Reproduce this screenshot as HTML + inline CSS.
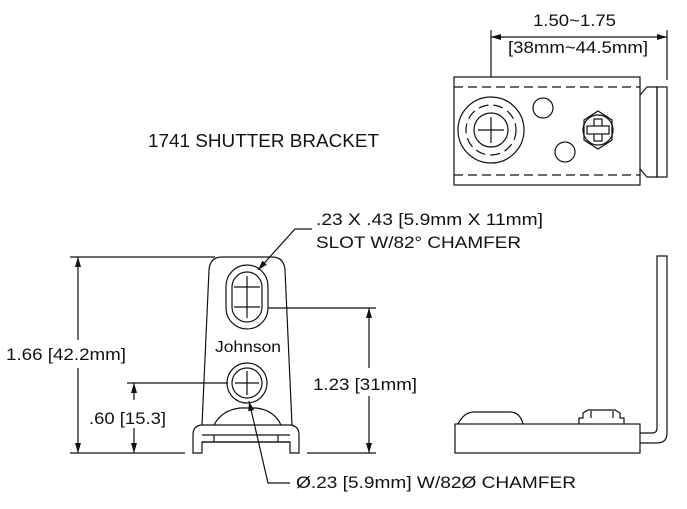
<!DOCTYPE html>
<html><head><meta charset="utf-8"><style>
html,body{margin:0;padding:0;background:#fff;width:687px;height:509px;overflow:hidden}
text{font-family:"Liberation Sans",Arial,sans-serif;fill:#111}
</style></head><body>
<svg width="687" height="509" viewBox="0 0 687 509" xmlns="http://www.w3.org/2000/svg">
<defs>
<marker id="ar" viewBox="0 0 10 6" refX="10" refY="3" markerWidth="10" markerHeight="6" orient="auto-start-reverse" markerUnits="userSpaceOnUse"><path d="M0,0 L10,3 L0,6 Z" fill="#111"/></marker>
</defs>
<g fill="none" stroke="#111" stroke-width="1.2">
<!-- TOP VIEW -->
<line x1="491" y1="30" x2="491" y2="130"/>
<line x1="667" y1="30" x2="667" y2="80"/>
<line x1="491" y1="37" x2="667" y2="37" marker-start="url(#ar)" marker-end="url(#ar)"/>
<rect x="454" y="77" width="186" height="108" fill="#fff"/>
<line x1="454" y1="87" x2="640" y2="87" stroke-dasharray="9,5"/>
<line x1="454" y1="175" x2="640" y2="175" stroke-dasharray="9,5"/>
<circle cx="491" cy="130" r="33"/>
<circle cx="491" cy="130" r="25" stroke-dasharray="10,5"/>
<circle cx="491" cy="130" r="17"/>
<line x1="478" y1="130" x2="504" y2="130"/>
<line x1="491" y1="117" x2="491" y2="143"/>
<circle cx="543" cy="108" r="10"/>
<circle cx="565" cy="152" r="10"/>
<polygon points="584,120 598,111 612,120 612,140 598,149 584,140"/>
<circle cx="598" cy="130" r="15"/>
<rect x="594" y="119" width="8" height="22" />
<rect x="587" y="126" width="22" height="8" fill="#fff"/>
<path d="M640,95 L647,87 L657,87 L657,177 L647,177 L640,169"/>
<rect x="657" y="87" width="10" height="90"/>
<!-- FRONT VIEW -->
<line x1="70" y1="257" x2="215" y2="257"/>
<line x1="70" y1="453" x2="185" y2="453"/>
<line x1="78" y1="257" x2="78" y2="340" marker-start="url(#ar)"/>
<line x1="78" y1="368" x2="78" y2="453" marker-end="url(#ar)"/>
<line x1="127" y1="383" x2="228" y2="383"/>
<line x1="134" y1="383" x2="134" y2="400" marker-start="url(#ar)"/>
<line x1="134" y1="428" x2="134" y2="453" marker-end="url(#ar)"/>
<line x1="268" y1="308" x2="376" y2="308"/>
<line x1="307" y1="453" x2="376" y2="453"/>
<line x1="369" y1="308" x2="369" y2="368" marker-start="url(#ar)"/>
<line x1="369" y1="396" x2="369" y2="453" marker-end="url(#ar)"/>
<path d="M202,425 L209,270 Q210,257 222,257 L272,257 Q284,257 285,270 L292,425"/>
<rect x="226" y="265" width="42" height="64" rx="21"/>
<rect x="232" y="272" width="30" height="50" rx="15"/>
<line x1="234" y1="287" x2="260" y2="287"/>
<line x1="234" y1="307" x2="260" y2="307"/>
<line x1="247" y1="276" x2="247" y2="318"/>
<circle cx="247" cy="383" r="20"/>
<circle cx="247" cy="383" r="15"/>
<line x1="235" y1="383" x2="259" y2="383"/>
<line x1="247" y1="371" x2="247" y2="395"/>
<path d="M214,425 Q222,410 240,408 L256,408 Q274,410 281,425"/>
<path d="M193,453 L193,435 Q193,425 203,425 L289,425 Q299,425 299,435 L299,453 L290,453 L290,442 L202,442 L202,453 Z"/>
<line x1="202" y1="435" x2="290" y2="435"/>
<line x1="202" y1="442" x2="290" y2="442"/>
<line x1="214" y1="435" x2="214" y2="442"/>
<line x1="278" y1="435" x2="278" y2="442"/>
<polyline points="312,229 295,229 258,270" marker-end="url(#ar)"/>
<polyline points="290,483 268,483 249,401" marker-end="url(#ar)"/>
<!-- SIDE VIEW -->
<rect x="455" y="424" width="185" height="29"/>
<path d="M458,424 Q464,412 474,412 L510,412 Q520,412 523,424"/>
<path d="M579,424 L579,418 L583,418 L583,413 L588,410 L615,410 L620,413 L620,418 L624,418 L624,424"/>
<line x1="591" y1="411" x2="591" y2="418"/><line x1="613" y1="411" x2="613" y2="418"/>
<path d="M640,433 L652,433 Q657,433 657,428 L657,256 L667,256 L667,433 Q667,443 657,443 L640,443"/>
</g>
<text x="148" y="147" font-size="18" textLength="231" lengthAdjust="spacingAndGlyphs">1741 SHUTTER BRACKET</text>
<text x="533" y="26" font-size="17" textLength="83" lengthAdjust="spacingAndGlyphs">1.50~1.75</text>
<text x="508" y="53" font-size="17" textLength="140" lengthAdjust="spacingAndGlyphs">[38mm~44.5mm]</text>
<text x="316" y="225" font-size="17" textLength="227" lengthAdjust="spacingAndGlyphs">.23 X .43 [5.9mm X 11mm]</text>
<text x="316" y="248" font-size="17" textLength="205" lengthAdjust="spacingAndGlyphs">SLOT W/82° CHAMFER</text>
<text x="215" y="352" font-size="16" textLength="66" lengthAdjust="spacingAndGlyphs">Johnson</text>
<text x="6" y="360" font-size="17" textLength="120" lengthAdjust="spacingAndGlyphs">1.66 [42.2mm]</text>
<text x="89" y="424" font-size="17" textLength="77" lengthAdjust="spacingAndGlyphs">.60 [15.3]</text>
<text x="313" y="390" font-size="17" textLength="104" lengthAdjust="spacingAndGlyphs">1.23 [31mm]</text>
<text x="296" y="488" font-size="17" textLength="280" lengthAdjust="spacingAndGlyphs">Ø.23 [5.9mm] W/82Ø CHAMFER</text>
</svg>
</body></html>
